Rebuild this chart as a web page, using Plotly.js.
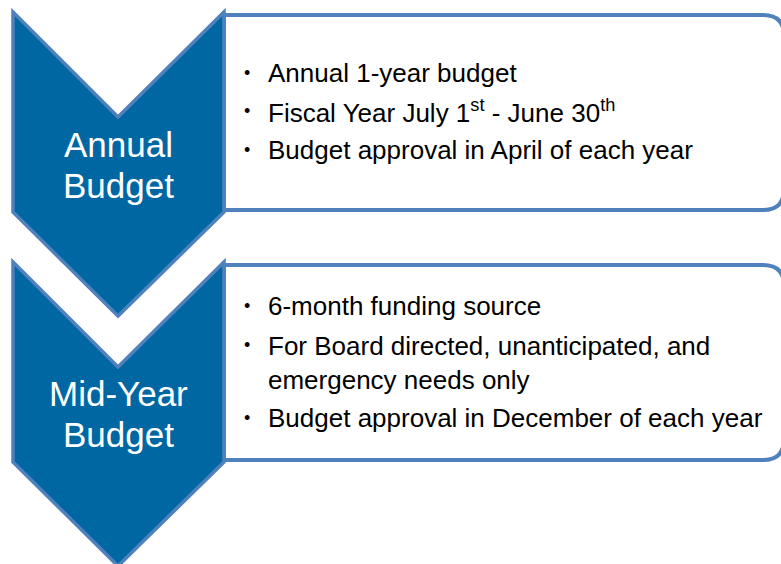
<!DOCTYPE html>
<html>
<head>
<meta charset="utf-8">
<script src="https://cdn.plot.ly/plotly-3.0.1.min.js"></script>
<style>html,body{margin:0;padding:0;background:#fff;}#chart{width:781px;height:564px;}</style>
</head>
<body>
<div id="chart"></div>
<script>
// Stage labels (chevrons)
const stageLabels = ["Annual<br>Budget", "Mid-Year<br>Budget"];
// Bullet items for each stage
const annualItems = [
  "Annual 1-year budget",
  "Fiscal Year July 1<sup>st</sup> - June 30<sup>th</sup>",
  "Budget approval in April of each year"
];
const midYearItems = [
  "6-month funding source",
  "For Board directed, unanticipated, and<br>emergency needs only",
  "Budget approval in December of each year"
];

const FILL = "#0067A3";
const EDGE = "#4F81BD";
const FONT = "Liberation Sans, Arial, sans-serif";

const shapes = [];
const annotations = [];

function chevron(off) {
  return `M 13 ${12+off} L 118 ${117+off} L 224 ${12+off} L 224 ${212+off} L 118 ${316+off} L 13 ${212+off} Z`;
}
function box(top, bottom) {
  const r = 21, L = 224, R = 784;
  return `M ${L} ${top} L ${R-r} ${top} Q ${R} ${top} ${R} ${top+r} L ${R} ${bottom-r} Q ${R} ${bottom} ${R-r} ${bottom} L ${L} ${bottom} Z`;
}

const stages = [
  {off: 0, label: stageLabels[0], items: annualItems, itemY: [73, 111, 150], labelY: [144, 185]},
  {off: 250, label: stageLabels[1], items: midYearItems, itemY: [306, 362.5, 418], labelY: [393, 434]}
];

stages.forEach(s => {
  shapes.push({type: "path", xref: "x", yref: "y", path: box(15 + s.off, 210 + s.off),
    fillcolor: "#ffffff", line: {color: EDGE, width: 4}, layer: "above"});
  shapes.push({type: "path", xref: "x", yref: "y", path: chevron(s.off),
    fillcolor: FILL, line: {color: EDGE, width: 3.5}, layer: "above"});
  s.label.split("<br>").forEach((line, j) => {
    annotations.push({x: 118, y: s.labelY[j], xref: "x", yref: "y", text: line, showarrow: false,
      xanchor: "center", yanchor: "middle", align: "center",
      font: {family: FONT, size: 35, color: "#ffffff"}});
  });
  s.items.forEach((t, i) => {
    const nLines = t.split("<br>").length;
    const firstY = s.itemY[i] - (nLines - 1) * 17.5;
    annotations.push({x: 247, y: firstY, xref: "x", yref: "y", text: "•", showarrow: false,
      xanchor: "center", yanchor: "middle", font: {family: FONT, size: 18, color: "#000000"}});
    annotations.push({x: 266, y: s.itemY[i], xref: "x", yref: "y", text: t, showarrow: false,
      xanchor: "left", yanchor: "middle", align: "left",
      font: {family: FONT, size: 26, color: "#000000"}});
  });
});

const layout = {
  width: 781, height: 564,
  margin: {l: 0, r: 0, t: 0, b: 0},
  paper_bgcolor: "#ffffff", plot_bgcolor: "#ffffff",
  xaxis: {range: [0, 781], visible: false, fixedrange: true},
  yaxis: {range: [564, 0], visible: false, fixedrange: true},
  shapes: shapes,
  annotations: annotations,
  showlegend: false
};

Plotly.newPlot("chart", [], layout, {displayModeBar: false, staticPlot: true});
</script>
</body>
</html>
